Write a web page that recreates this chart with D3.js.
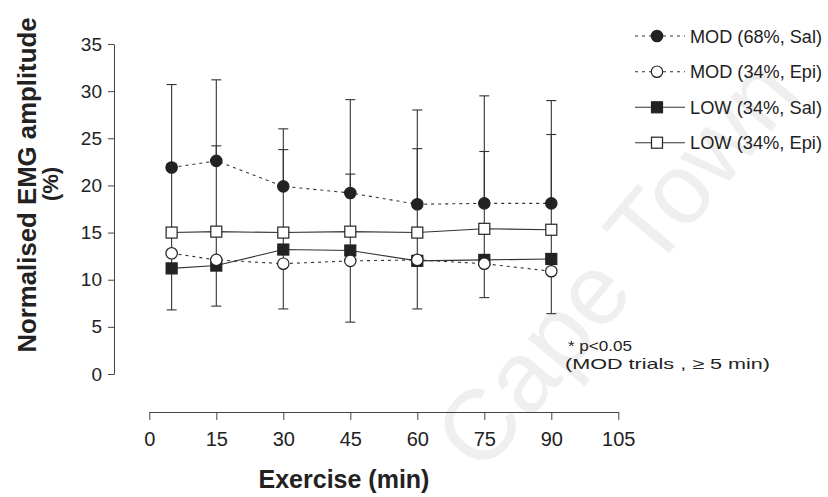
<!DOCTYPE html>
<html><head><meta charset="utf-8">
<script src="https://cdn.jsdelivr.net/npm/d3@7"></script>
<style>
html,body{margin:0;padding:0;background:#fff;}
svg{display:block;font-family:"Liberation Sans",Arial,sans-serif;}
</style></head>
<body>
<svg id="chart" width="828" height="497"></svg>
<script>
// ---- data ----
const times = [5, 15, 30, 45, 60, 75, 90];
const modSal = [21.9, 22.6, 19.9, 19.2, 18.0, 18.1, 18.1];
const modEpi = [12.8, 12.1, 11.7, 12.0, 12.1, 11.7, 10.9];
const lowSal = [11.2, 11.5, 13.2, 13.1, 12.0, 12.1, 12.2];
const lowEpi = [15.0, 15.1, 15.0, 15.1, 15.0, 15.4, 15.3];
const modSalUpper = [30.7, 31.2, 26.0, 29.1, 28.0, 29.5, 29.0];
const lowEpiUpper = [22.3, 24.2, 23.8, 21.2, 23.9, 23.6, 25.4];
const lowEpiLower = [6.8, 7.2, 6.9, 5.5, 6.9, 8.1, 6.4];
const yTicks = [0, 5, 10, 15, 20, 25, 30, 35];
const xTicks = [0, 15, 30, 45, 60, 75, 90, 105];
const legendLabels = ["MOD (68%, Sal)", "MOD (34%, Epi)", "LOW (34%, Sal)", "LOW (34%, Epi)"];

const svg = d3.select("#chart");
const ink = "#222";

// watermark
svg.append("text")
  .attr("transform", "translate(622,268) rotate(-50)")
  .attr("text-anchor", "middle").attr("dominant-baseline", "middle")
  .attr("font-size", 100).attr("fill", "#efefef")
  .text("Cape Town");

const x = d3.scaleLinear().domain([0, 105]).range([149.3, 618.3]);
const y = d3.scaleLinear().domain([0, 35]).range([374, 44]);

// y axis
const yAxis = svg.append("g").attr("transform", "translate(114,0)")
  .call(d3.axisLeft(y).tickValues(yTicks).tickSize(6).tickSizeOuter(0).tickPadding(6));
yAxis.selectAll("path,line").attr("stroke", "#444");
yAxis.selectAll("text").attr("font-size", 19).attr("fill", ink).attr("font-family", "Liberation Sans, Arial, sans-serif");

// x axis (detached)
const xAxis = svg.append("g").attr("transform", "translate(0,412)")
  .call(d3.axisBottom(x).tickValues(xTicks).tickSize(8).tickSizeOuter(0).tickPadding(12));
xAxis.selectAll("path,line").attr("stroke", "#444");
xAxis.selectAll("text").attr("font-size", 20).attr("fill", ink).attr("font-family", "Liberation Sans, Arial, sans-serif");

// axis titles
svg.append("text")
  .attr("transform", "translate(36,185) rotate(-90)")
  .attr("text-anchor", "middle").attr("font-size", 25).attr("font-weight", "bold").attr("fill", ink)
  .attr("textLength", 335).attr("lengthAdjust", "spacingAndGlyphs")
  .text("Normalised EMG amplitude");
svg.append("text")
  .attr("transform", "translate(58,184) rotate(-90)")
  .attr("text-anchor", "middle").attr("font-size", 22).attr("font-weight", "bold").attr("fill", ink)
  .text("(%)");
svg.append("text")
  .attr("x", 344).attr("y", 488)
  .attr("text-anchor", "middle").attr("font-size", 25).attr("font-weight", "bold").attr("fill", ink)
  .text("Exercise (min)");

// error bars
const g = svg.append("g");
function errBars(means, ends) {
  times.forEach((t, i) => {
    const cx = x(t);
    g.append("line").attr("x1", cx).attr("x2", cx).attr("y1", y(means[i])).attr("y2", y(ends[i]))
      .attr("stroke", "#333").attr("stroke-width", 1.1);
    g.append("line").attr("x1", cx - 5).attr("x2", cx + 5).attr("y1", y(ends[i])).attr("y2", y(ends[i]))
      .attr("stroke", "#333").attr("stroke-width", 1.1);
  });
}
errBars(modSal, modSalUpper);
errBars(lowEpi, lowEpiUpper);
errBars(lowEpi, lowEpiLower);

// lines
const line = d3.line().x((d, i) => x(times[i])).y(d => y(d));
const series = [
  {vals: lowSal, dash: null, shape: "square", fill: ink},
  {vals: lowEpi, dash: null, shape: "square", fill: "#fff"},
  {vals: modSal, dash: "3,4", shape: "circle", fill: ink},
  {vals: modEpi, dash: "3,4", shape: "circle", fill: "#fff"}
];
series.forEach(s => {
  g.append("path").datum(s.vals).attr("d", line)
    .attr("fill", "none").attr("stroke", "#333").attr("stroke-width", 1.1)
    .attr("stroke-dasharray", s.dash);
});
function marker(sel, shape, fill, cx, cy) {
  if (shape === "circle") {
    sel.append("circle").attr("cx", cx).attr("cy", cy).attr("r", 5.7)
      .attr("fill", fill).attr("stroke", ink).attr("stroke-width", 1.2);
  } else {
    sel.append("rect").attr("x", cx - 5.5).attr("y", cy - 5.5).attr("width", 11).attr("height", 11)
      .attr("fill", fill).attr("stroke", ink).attr("stroke-width", 1.2);
  }
}
series.forEach(s => {
  s.vals.forEach((v, i) => marker(g, s.shape, s.fill, x(times[i]), y(v)));
});

// legend
const legendOrder = [2, 3, 0, 1];
const legY = [36, 71.7, 107.3, 142.7];
const lg = svg.append("g");
legendLabels.forEach((lab, k) => {
  const s = series[legendOrder[k]];
  const yy = legY[k];
  lg.append("line").attr("x1", 635).attr("x2", 685).attr("y1", yy).attr("y2", yy)
    .attr("stroke", "#333").attr("stroke-width", 1.1).attr("stroke-dasharray", s.dash);
  marker(lg, s.shape, s.fill, 657, yy);
  lg.append("text").attr("x", 690).attr("y", yy + 6.5)
    .attr("font-size", 17.5).attr("fill", ink)
    .attr("textLength", 132).attr("lengthAdjust", "spacingAndGlyphs")
    .text(lab);
});

// annotation
svg.append("text").attr("x", 568).attr("y", 351).attr("font-size", 15).attr("fill", ink)
  .attr("textLength", 64).attr("lengthAdjust", "spacingAndGlyphs").text("* p<0.05");
svg.append("text").attr("x", 565).attr("y", 369).attr("font-size", 15).attr("fill", ink)
  .attr("textLength", 205).attr("lengthAdjust", "spacingAndGlyphs").text("(MOD trials , \u2265 5 min)");
</script>
</body></html>
